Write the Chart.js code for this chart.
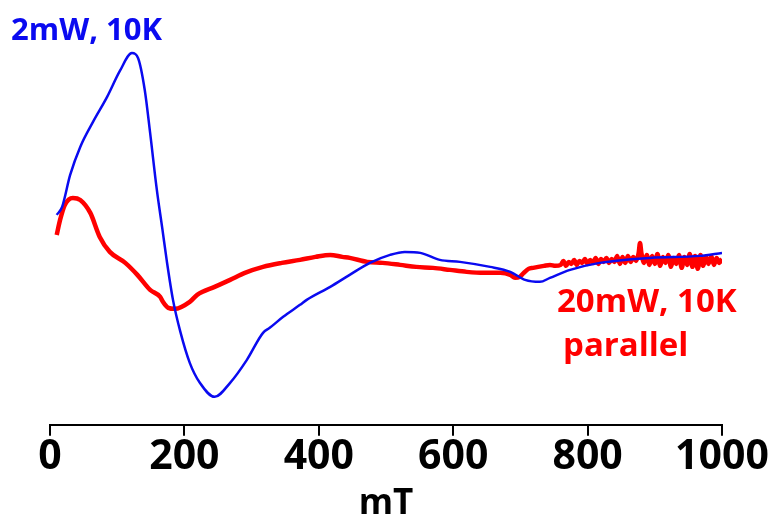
<!DOCTYPE html>
<html>
<head>
<meta charset="utf-8">
<script src="https://cdn.jsdelivr.net/npm/chart.js@4/dist/chart.umd.min.js"></script>
<style>
    html, body { margin: 0; padding: 0; background: #fff; }
    #wrap { position: relative; width: 775px; height: 525px; }
    .note { position: absolute; font-family: 'Open Sans', sans-serif; font-weight: 700; line-height: 1; white-space: nowrap; }
</style>
</head>
<body>
<div id="wrap">
    <canvas id="eprChart" width="775" height="525"></canvas>
    <div class="note" style="left: 11px; top: 13px; font-size: 31px; color: #0a0af0;">2mW, 10K</div>
    <div class="note" style="left: 557px; top: 283px; font-size: 33px; color: #ff0000;">20mW, 10K</div>
    <div class="note" style="left: 563px; top: 327px; font-size: 33px; color: #ff0000;">parallel</div>
</div>
<script>
// field (mT) and signal (arb. units)
const blueField = [10, 18, 30, 45, 64, 85, 104, 122, 131, 141, 149, 159, 167, 174, 183, 194, 208, 223, 245, 268, 293, 317, 327, 347, 372, 382, 417, 446, 476, 506, 528, 551, 580, 610, 655, 685, 707, 729, 744, 774, 818, 893, 967, 1000];
const blueSignal = [210, 218, 250, 278, 303, 328, 354, 372, 367, 335, 292, 235, 197, 163, 125, 93, 62, 42, 28, 42, 65, 92, 97, 108, 120, 125, 138, 150, 162, 170, 173, 172, 165, 163, 158, 153, 145, 143, 147, 155, 162, 167, 169, 172];

const redField = [10, 15, 22, 34, 45, 60, 74, 89, 112, 130, 149, 164, 168, 176, 186, 208, 219, 245, 268, 290, 317, 345, 372, 395, 417, 435, 446, 472, 495, 521, 545, 570, 595, 620, 645, 670, 685, 692, 699, 705, 712, 719, 735, 744, 752,
    760, 764, 768, 772, 776, 780, 784, 788, 792, 796, 800, 804, 808, 812, 816, 820, 824, 828, 832, 836, 840, 844, 848, 852, 856, 860, 864, 868, 872, 876, 878, 880, 884, 888, 892, 896,
    900, 904, 908, 912, 916, 920, 924, 928, 932, 936, 940, 944, 948, 952, 956, 960, 964, 968, 972, 976, 980, 984, 988, 992, 996, 1000];
const redSignal = [190, 205, 220, 227, 225, 212, 188, 173, 162, 150, 135, 128, 123, 117, 116, 123, 130, 138, 145, 152, 158, 162, 165, 168, 170, 168, 167, 163, 162, 160, 158, 157, 155, 153, 152, 152, 150, 147, 148, 152, 156, 157, 159, 160, 159,
    160, 164, 159, 163, 161, 165, 160, 164, 162, 166, 161, 165, 162, 167, 161, 166, 163, 167, 162, 166, 163, 169, 161, 168, 162, 169, 163, 168, 164, 172, 182, 172, 162, 170, 160, 169,
    161, 171, 159, 168, 162, 170, 158, 167, 161, 170, 157, 168, 160, 171, 158, 169, 156, 170, 159, 168, 161, 169, 160, 167, 162, 166];

const xTicks = [0, 200, 400, 600, 800, 1000];

const toPoints = (xs, ys) => xs.map((x, i) => ({ x: x, y: ys[i] }));

const ctx = document.getElementById('eprChart').getContext('2d');
new Chart(ctx, {
    type: 'scatter',
    data: {
        datasets: [
            {
                label: '2mW, 10K',
                data: toPoints(blueField, blueSignal),
                showLine: true,
                borderColor: '#0a0af0',
                borderWidth: 2.5,
                pointRadius: 0,
                cubicInterpolationMode: 'monotone'
            },
            {
                label: '20mW, 10K parallel',
                data: toPoints(redField, redSignal),
                showLine: true,
                borderColor: '#ff0000',
                borderWidth: 4.5,
                pointRadius: 0,
                cubicInterpolationMode: 'monotone'
            }
        ]
    },
    options: {
        responsive: false,
        animation: false,
        layout: { padding: { left: 50, right: 53, top: 0, bottom: 0 } },
        plugins: {
            legend: { display: false },
            tooltip: { enabled: false }
        },
        scales: {
            y: { display: false, min: 0, max: 425 },
            x: {
                type: 'linear',
                min: 0,
                max: 1000,
                afterBuildTicks: axis => { axis.ticks = xTicks.map(v => ({ value: v })); },
                border: { display: true, color: '#000', width: 2 },
                grid: { drawOnChartArea: false, drawTicks: true, tickLength: 11, color: '#000', lineWidth: 2 },
                ticks: {
                    color: '#000',
                    maxRotation: 0,
                    padding: -3,
                    callback: v => String(v),
                    font: { family: 'Open Sans', weight: '700', size: 41 }
                },
                title: {
                    display: true,
                    text: 'mT',
                    color: '#000',
                    padding: { top: 4, bottom: 0 },
                    font: { family: 'Open Sans', weight: '700', size: 35 }
                }
            }
        }
    }
});
</script>
</body>
</html>
